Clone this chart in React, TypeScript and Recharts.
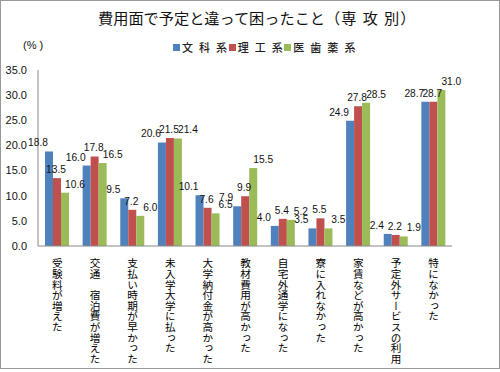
import { BarChart, Bar, XAxis, YAxis, LabelList } from "recharts";

const categories = [
  "受験料が増えた",
  "交通　宿泊費が増えた",
  "支払い時期が早かった",
  "未入学大学に払った",
  "大学納付金が高かった",
  "教材費用が高かった",
  "自宅外通学になった",
  "寮に入れなかった",
  "家賃などが高かった",
  "予定外サービスの利用",
  "特になかった",
];
const bunka = [18.8, 16.0, 9.5, 20.6, 10.1, 7.9, 4.0, 3.5, 24.9, 2.4, 28.7];
const riko = [13.5, 17.8, 7.2, 21.5, 7.6, 9.9, 5.4, 5.5, 27.8, 2.2, 28.7];
const ishiyaku = [10.6, 16.5, 6.0, 21.4, 6.5, 15.5, 5.2, 3.5, 28.5, 1.9, 31.0];
const yTicks = [0, 5, 10, 15, 20, 25, 30, 35];

const data = categories.map((c, i) => ({
  name: c,
  bunka: bunka[i],
  riko: riko[i],
  ishiyaku: ishiyaku[i],
}));

const FONT = "'Liberation Sans', 'Noto Sans CJK JP', sans-serif";

// dx nudges the value labels apart the way Excel did
const series = [
  { key: "bunka", name: "文 科 系", color: "#4F81BD", dx: -11 },
  { key: "riko", name: "理 工 系", color: "#C0504D", dx: -1 },
  { key: "ishiyaku", name: "医 歯 薬 系", color: "#9BBB59", dx: 10 },
];

function VerticalTick({ x, y, payload }: any) {
  return (
    <text
      x={x}
      y={y + 4}
      fill="#000"
      fontSize={10.6}
      fontFamily={FONT}
      style={{ writingMode: "vertical-rl" }}
    >
      {payload.value}
    </text>
  );
}

const makeLabel = (dx: number) => (props: any) => {
  const { x, y, width, value } = props;
  return (
    <text
      x={Number(x) + Number(width) / 2 + dx}
      y={Number(y) - 5}
      textAnchor="middle"
      fontSize={10.2}
      fill="#111"
      fontFamily={FONT}
    >
      {Number(value).toFixed(1)}
    </text>
  );
};

export default function App() {
  return (
    <div
      style={{
        position: "absolute",
        left: 0,
        top: 0,
        width: 500,
        height: 369,
        border: "1px solid #999",
        boxSizing: "border-box",
        background: "#fff",
      }}
    >
      <div
        style={{
          position: "absolute",
          left: 97,
          top: 5,
          whiteSpace: "nowrap",
          fontFamily: FONT,
          fontSize: 15.2,
          color: "#111",
        }}
      >
        費用面で予定と違って困ったこと<span style={{ letterSpacing: 1 }}>（専 攻 別）</span>
      </div>
      <div style={{ position: "absolute", left: 22, top: 38, fontFamily: FONT, fontSize: 11, color: "#111" }}>
        (% )
      </div>
      <div
        style={{
          position: "absolute",
          left: 172,
          top: 38,
          display: "flex",
          alignItems: "center",
          fontFamily: FONT,
          fontSize: 11,
          fontWeight: 500,
          letterSpacing: 1.5,
          color: "#222",
          zIndex: 1,
        }}
      >
        {series.map((s) => (
          <div key={s.key} style={{ display: "flex", alignItems: "center" }}>
            <span style={{ width: 7, height: 7, background: s.color, display: "inline-block", marginRight: 2 }} />
            <span>{s.name}</span>
          </div>
        ))}
      </div>
      <div style={{ position: "absolute", left: -1, top: -1 }}>
        <BarChart
          width={500}
          height={372}
          data={data}
          margin={{ top: 70, right: 48, bottom: 0, left: 0 }}
          barGap={0}
        >
          <YAxis
            domain={[0, 35]}
            ticks={yTicks}
            interval={0}
            width={38}
            tickLine={false}
            tickMargin={5}
            axisLine={{ stroke: "#888" }}
            tick={{ fontSize: 11, fill: "#111", fontFamily: FONT }}
            tickFormatter={(v: number) => v.toFixed(1)}
          />
          <XAxis
            dataKey="name"
            height={126}
            interval={0}
            tickLine={false}
            axisLine={{ stroke: "#888" }}
            tick={<VerticalTick />}
          />
          {series.map((s) => (
            <Bar key={s.key} dataKey={s.key} name={s.name} fill={s.color} barSize={8} isAnimationActive={false}>
              <LabelList dataKey={s.key} content={makeLabel(s.dx)} />
            </Bar>
          ))}
        </BarChart>
      </div>
    </div>
  );
}
